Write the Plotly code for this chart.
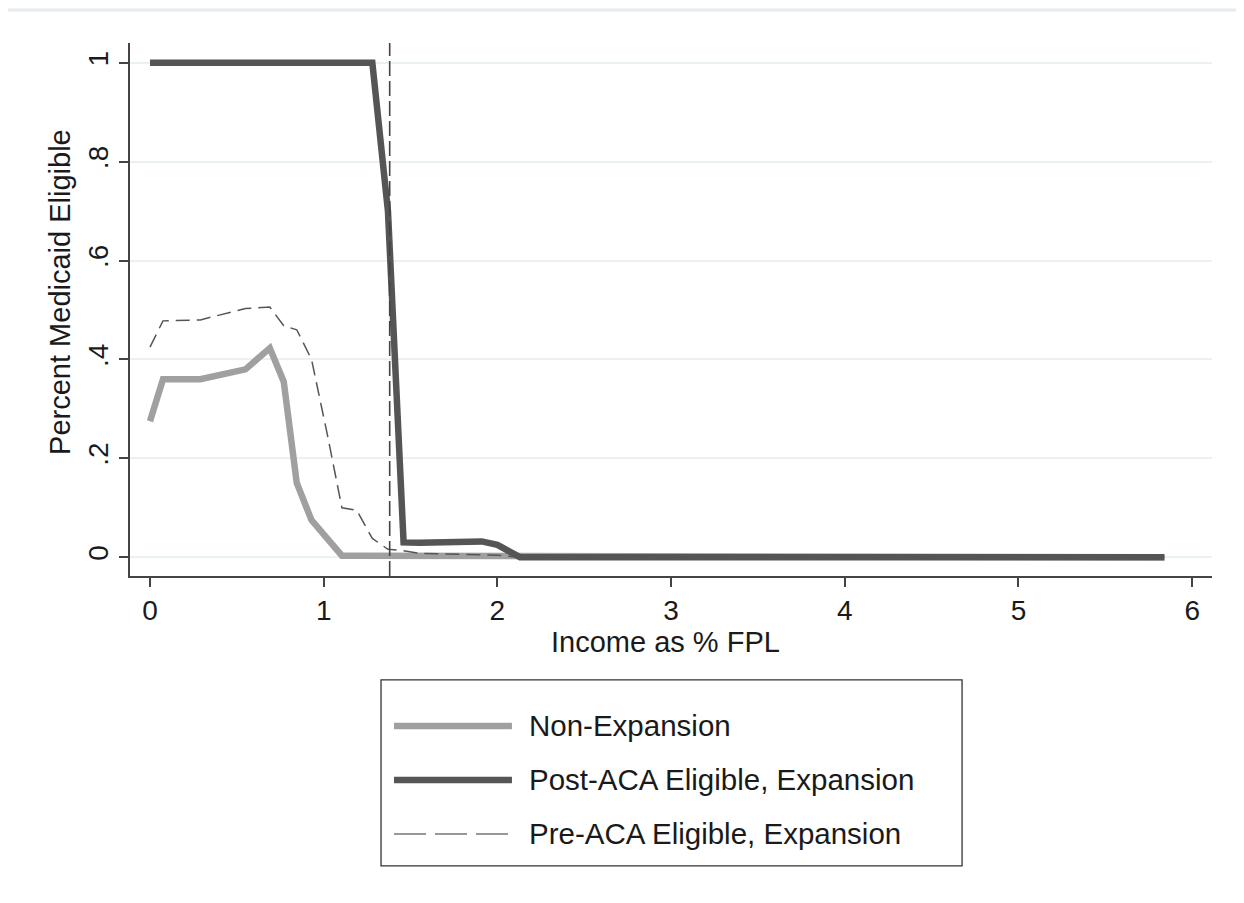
import plotly.graph_objects as go

# ---- data ----
income_fpl = [0, 0.075, 0.29, 0.55, 0.69, 0.77, 0.845, 0.93, 1.02, 1.105, 1.19, 1.28,
              1.37, 1.46, 1.55, 1.64, 1.73, 1.82, 1.91, 2.0, 2.13, 2.25, 2.5, 3.0,
              3.5, 4.0, 4.5, 5.0, 5.5, 5.84]
non_expansion = [0.275, 0.36, 0.36, 0.38, 0.423, 0.355, 0.15, 0.075, 0.038, 0.003, 0.003, 0.003,
                 0.003, 0.002, 0.002, 0.002, 0.002, 0.002, 0.002, 0.002, 0.0, 0.0, 0.0, 0.0,
                 0.0, 0.0, 0.0, 0.0, 0.0, 0.0]
post_aca_expansion = [1, 1, 1, 1, 1, 1, 1, 1, 1, 1, 1, 1,
                      0.70, 0.03, 0.029, 0.03, 0.031, 0.032, 0.032, 0.025, 0.0, 0.0, 0.0, 0.0,
                      0.0, 0.0, 0.0, 0.0, 0.0, 0.0]
pre_aca_expansion = [0.425, 0.478, 0.48, 0.503, 0.506, 0.468, 0.46, 0.40, 0.25, 0.10, 0.095, 0.038,
                     0.016, 0.013, 0.008, 0.007, 0.006, 0.006, 0.005, 0.004, 0.0, 0.0, 0.0, 0.0,
                     0.0, 0.0, 0.0, 0.0, 0.0, 0.0]
threshold = 1.38
series_names = ["Non-Expansion", "Post-ACA Eligible, Expansion", "Pre-ACA Eligible, Expansion"]
x_ticks = [0, 1, 2, 3, 4, 5, 6]
x_ticklabels = ["0", "1", "2", "3", "4", "5", "6"]
y_ticks = [0, 0.2, 0.4, 0.6, 0.8, 1]
y_ticklabels = ["0", ".2", ".4", ".6", ".8", "1"]

FONT = "Liberation Sans, Arial, sans-serif"
TXT = "#1a1a1a"
C_LIGHT = "#a0a0a0"
C_DARK = "#555555"

fig = go.Figure()
fig.add_trace(go.Scatter(x=income_fpl, y=non_expansion, mode="lines", name=series_names[0],
                         line=dict(color=C_LIGHT, width=6.5), showlegend=False))
fig.add_trace(go.Scatter(x=income_fpl, y=post_aca_expansion, mode="lines", name=series_names[1],
                         line=dict(color=C_DARK, width=6.5), showlegend=False))
fig.add_trace(go.Scatter(x=income_fpl, y=pre_aca_expansion, mode="lines", name=series_names[2],
                         line=dict(color=C_DARK, width=1.5, dash="14px,7px"), showlegend=False))

# vertical reference line
fig.add_shape(type="line", xref="x", yref="paper", x0=threshold, x1=threshold, y0=0, y1=1,
              line=dict(color="#444444", width=1.6, dash="15px,5px"), layer="above")

# outer light frame
fig.add_shape(type="rect", xref="paper", yref="paper", x0=-0.1174, x1=1.0259, y0=-0.70, y1=1.062,
              line=dict(color="#e4ecef", width=3), fillcolor="rgba(0,0,0,0)", layer="below")

# custom legend box
fig.add_shape(type="rect", xref="paper", yref="paper", x0=0.232, x1=0.769, y0=-0.544, y1=-0.195,
              line=dict(color="#333333", width=1.3), fillcolor="white")
leg_y = [-0.2814, -0.3827, -0.484]
leg_styles = [dict(color=C_LIGHT, width=6.5), dict(color=C_DARK, width=6.5),
              dict(color="#777777", width=1.5, dash="32px,9px")]
for name, yy, st in zip(series_names, leg_y, leg_styles):
    fig.add_shape(type="line", xref="paper", yref="paper", x0=0.244, x1=0.353, y0=yy, y1=yy, line=st)
    fig.add_annotation(xref="paper", yref="paper", x=0.3665, y=yy, text=name, showarrow=False,
                       xanchor="left", yanchor="middle", font=dict(family=FONT, size=29.5, color=TXT))

# axis titles
fig.add_annotation(xref="paper", yref="paper", x=0.4945, y=-0.1238, text="Income as % FPL",
                   showarrow=False, xanchor="center", yanchor="middle",
                   font=dict(family=FONT, size=29, color=TXT))
fig.add_annotation(xref="paper", yref="paper", x=-0.0647, y=0.533, text="Percent Medicaid Eligible",
                   showarrow=False, textangle=-90, xanchor="center", yanchor="middle",
                   font=dict(family=FONT, size=29, color=TXT))

fig.update_layout(
    width=1244, height=903,
    margin=dict(l=122, r=40, t=35, b=335),
    paper_bgcolor="white", plot_bgcolor="white",
    showlegend=False,
    xaxis=dict(range=[-0.115, 6.114], tickvals=x_ticks, ticktext=x_ticklabels,
               showgrid=False, zeroline=False, showline=True, linecolor="#444444", linewidth=1.5,
               ticks="outside", ticklen=9, tickwidth=1.5, tickcolor="#444444",
               tickfont=dict(family=FONT, size=28, color=TXT)),
    yaxis=dict(range=[-0.038, 1.040], tickvals=y_ticks, ticktext=y_ticklabels, tickangle=-90,
               showgrid=True, gridcolor="#e9f1f2", gridwidth=1.5, zeroline=False,
               showline=True, linecolor="#444444", linewidth=1.5,
               ticks="outside", ticklen=9, tickwidth=1.5, tickcolor="#444444",
               tickfont=dict(family=FONT, size=28, color=TXT)),
)

fig.write_html("out.html")
